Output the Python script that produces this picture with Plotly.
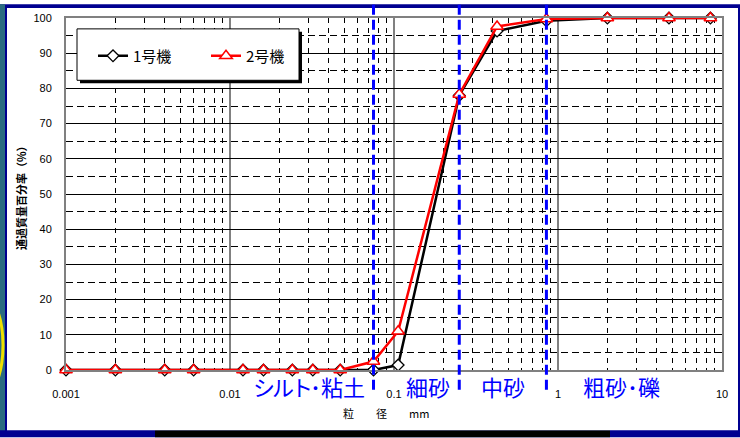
import plotly.graph_objects as go

# Grain size (mm) and percent passing for the two machines
grain_mm = [0.001, 0.002, 0.004, 0.006, 0.012, 0.016, 0.024, 0.032, 0.047,
            0.075, 0.106, 0.25, 0.425, 0.85, 2.0, 4.75, 8.5]
passing_1 = [0, 0, 0, 0, 0, 0, 0, 0, 0, 0, 1.4, 78.0, 96.3, 99.2, 100, 100, 100]
passing_2 = [0, 0, 0, 0, 0, 0, 0, 0, 0, 2.4, 11.0, 78.3, 97.6, 99.7, 100, 100, 100]
series_names = ["1号機", "2号機"]

# Soil class boundaries (mm) and class labels
boundaries_mm = [0.075, 0.25, 0.85]
class_labels = ['<span style="letter-spacing:-3px">シルト</span>･粘土',
                "細砂", "中砂", "粗砂･礫"]

x_tick_vals = [0.001, 0.01, 0.1, 1, 10]
x_tick_text = ["0.001", "0.01", "0.1", "1", "10"]
x_minor_vals = [m * d for d in (0.001, 0.01, 0.1, 1) for m in range(2, 10)]

W, H = 740, 438
L, R, T, B = 66, 18, 14, 68
PW, PH = W - L - R, H - T - B


def px(x):
    return (x - L) / PW


def py(y):
    return (H - B - y) / PH


fig = go.Figure()

fig.add_trace(go.Scatter(
    x=grain_mm, y=passing_1, name=series_names[0], mode="lines+markers",
    line=dict(color="black", width=2.5),
    marker=dict(symbol="diamond", size=9, color="white",
                line=dict(color="black", width=1.3)),
    cliponaxis=False,
))
fig.add_trace(go.Scatter(
    x=grain_mm, y=passing_2, name=series_names[1], mode="lines+markers",
    line=dict(color="#ff0000", width=2.5),
    marker=dict(symbol="triangle-up", size=11, color="white",
                line=dict(color="#ff0000", width=1.5)),
    cliponaxis=False,
))

shapes = []
# slide frame around the chart
shapes.append(dict(type="rect", xref="paper", yref="paper", layer="below",
                   x0=px(0), x1=px(W), y0=py(H), y1=py(0),
                   fillcolor="#000090", line=dict(width=0)))
shapes.append(dict(type="rect", xref="paper", yref="paper", layer="below",
                   x0=px(0), x1=px(5), y0=py(431), y1=py(0),
                   fillcolor="#2a6c80", line=dict(width=0)))
shapes.append(dict(type="circle", xref="paper", yref="paper", layer="below",
                   x0=px(-30), x1=px(3), y0=py(392), y1=py(298),
                   line=dict(color="#f0e000", width=3)))
shapes.append(dict(type="rect", xref="paper", yref="paper", layer="below",
                   x0=px(155), x1=px(610), y0=py(H), y1=py(431),
                   fillcolor="black", line=dict(width=0)))
shapes.append(dict(type="rect", xref="paper", yref="paper", layer="below",
                   x0=px(7), x1=px(738), y0=py(431), y1=py(4),
                   fillcolor="white", line=dict(width=0)))
# legend box with drop shadow
shapes.append(dict(type="rect", xref="paper", yref="paper", layer="above",
                   x0=px(80), x1=px(302), y0=py(80), y1=py(28),
                   fillcolor="black", line=dict(width=0)))
shapes.append(dict(type="rect", xref="paper", yref="paper", layer="above",
                   x0=px(77), x1=px(299), y0=py(77), y1=py(25),
                   fillcolor="white", line=dict(color="black", width=1)))
# class boundary lines
for b in boundaries_mm:
    shapes.append(dict(type="line", xref="x", yref="paper", layer="above",
                       x0=b, x1=b, y0=py(390), y1=py(0),
                       line=dict(color="#0000ff", width=3, dash="10px,5px")))

annotations = []
label_centers = [309, 427.5, 503, 621.5]
for text, cx in zip(class_labels, label_centers):
    annotations.append(dict(xref="paper", yref="paper", x=px(cx), y=py(386.5),
                            xanchor="center", yanchor="middle",
                            text=text, showarrow=False,
                            font=dict(family="Noto Sans CJK JP", size=22,
                                      color="#0000ff")))
annotations.append(dict(xref="paper", yref="paper", x=px(386), y=py(413),
                        xanchor="center", yanchor="middle",
                        text="粒　　径　　mm", showarrow=False,
                        font=dict(family="Noto Sans CJK JP", size=11,
                                  color="black")))
annotations.append(dict(xref="paper", yref="paper", x=px(21), y=py(193),
                        xanchor="center", yanchor="middle",
                        text="<b>通過質量百分率（%）</b>", textangle=-90,
                        showarrow=False,
                        font=dict(family="Noto Sans CJK JP", size=11,
                                  color="black")))

fig.update_layout(
    width=W, height=H,
    margin=dict(l=L, r=R, t=T, b=B, pad=0),
    paper_bgcolor="white",
    plot_bgcolor="rgba(0,0,0,0)",
    font=dict(family="Liberation Sans, Arial", size=11, color="black"),
    shapes=shapes,
    annotations=annotations,
    showlegend=True,
    legend=dict(orientation="h", x=px(93), y=py(52.5), xanchor="left",
                yanchor="middle", bgcolor="rgba(0,0,0,0)", borderwidth=0,
                font=dict(family="Noto Sans CJK JP", size=15, color="black"),
                entrywidth=68, entrywidthmode="pixels", itemwidth=30),
    xaxis=dict(
        type="log", range=[-3, 1],
        tickmode="array", tickvals=x_tick_vals, ticktext=x_tick_text,
        ticks="", ticklabelstandoff=13,
        showgrid=True, gridcolor="#808080", gridwidth=2,
        minor=dict(tickmode="array", tickvals=x_minor_vals, showgrid=True,
                   gridcolor="black", gridwidth=1, griddash="5px,5px"),
        showline=True, linecolor="#808080", linewidth=2, mirror=True,
        zeroline=False,
    ),
    yaxis=dict(
        range=[0, 100], tickmode="linear", tick0=0, dtick=10,
        ticks="", ticklabelstandoff=10,
        showgrid=True, gridcolor="black", gridwidth=1,
        minor=dict(tickmode="linear", tick0=0, dtick=5, showgrid=True,
                   gridcolor="black", gridwidth=1, griddash="7px,4px"),
        showline=True, linecolor="#808080", linewidth=2, mirror=True,
        zeroline=False,
    ),
)

fig.write_html("out.html")
